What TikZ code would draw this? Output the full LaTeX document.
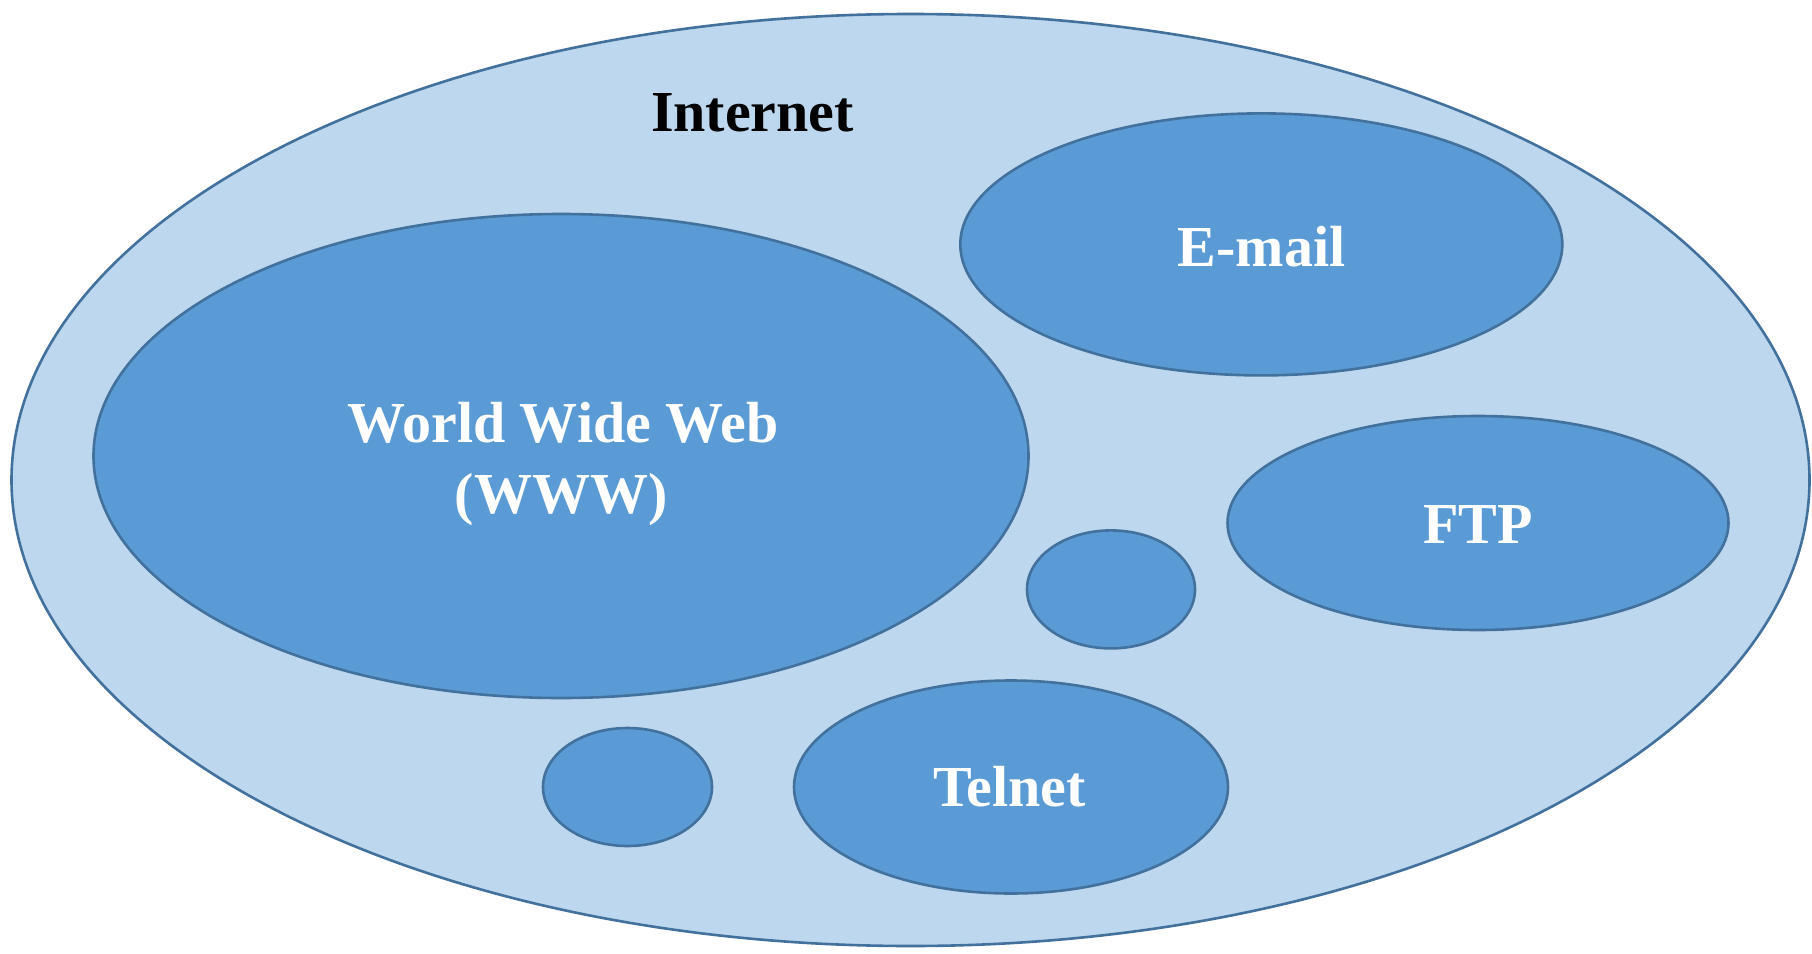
\documentclass[tikz,border=0pt]{standalone}
\usepackage{fontspec}
\setmainfont{Liberation Serif}
\usetikzlibrary{shapes.geometric}
\definecolor{outerfill}{HTML}{BDD7EE}
\definecolor{innerfill}{HTML}{5B9BD5}
\definecolor{edgeblue}{HTML}{41719C}
\tikzset{
  bubble/.style={ellipse, draw=edgeblue, line width=2.6pt, inner sep=0pt},
  outerbubble/.style={bubble, fill=outerfill},
  innerbubble/.style={bubble, fill=innerfill},
  lbl/.style={anchor=base, inner sep=0pt, font=\fontsize{58}{70}\selectfont\bfseries},
  whitelbl/.style={lbl, text=white},
}
\begin{document}
\begin{tikzpicture}[x=1pt,y=-1pt]
\fill[white] (0,0) rectangle (1812,953);
\useasboundingbox (0,0) rectangle (1812,953);
\node[outerbubble, minimum width=1798pt, minimum height=932pt] (internet) at (910.5,480) {};
\node[innerbubble, minimum width=935pt, minimum height=484pt] (www) at (561,456) {};
\node[innerbubble, minimum width=602pt, minimum height=262pt] (email) at (1261.3,244.4) {};
\node[innerbubble, minimum width=501pt, minimum height=214pt] (ftp) at (1478,523) {};
\node[innerbubble, minimum width=168pt, minimum height=118pt] (small1) at (1111,589.4) {};
\node[innerbubble, minimum width=169pt, minimum height=118pt] (small2) at (627.5,787) {};
\node[innerbubble, minimum width=434pt, minimum height=213pt] (telnet) at (1011,787) {};
\node[lbl] (tinternet) at (752.5,131.7) {Internet};
\node[whitelbl] (temail) at (1261.7,266.7) {E-mail};
\node[whitelbl] (twww1) at (563,442.7) {World Wide Web};
\node[whitelbl] (twww2) at (561,513.3) {(WWW)};
\node[whitelbl] (tftp) at (1478,543.3) {FTP};
\node[whitelbl] (ttelnet) at (1009.7,806.7) {Telnet};
\end{tikzpicture}
\end{document}
